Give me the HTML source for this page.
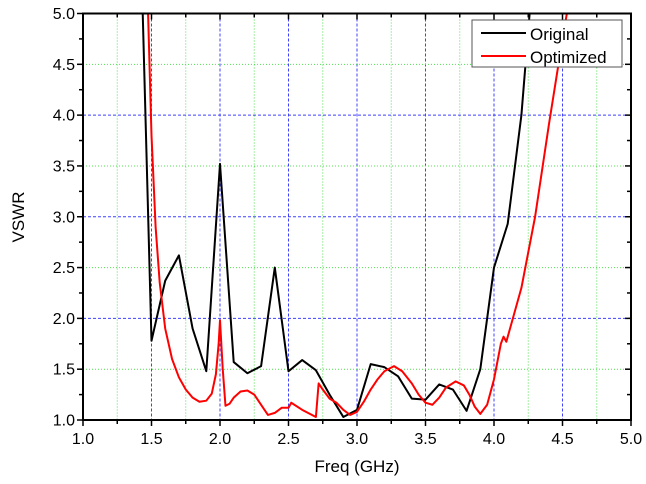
<!DOCTYPE html>
<html><head><meta charset="utf-8"><style>
html,body{margin:0;padding:0;background:#fff;}
svg{display:block;font-family:"Liberation Sans",Arial,sans-serif;}
</style></head><body>
<svg id="s" width="646" height="484" viewBox="0 0 646 484" xmlns="http://www.w3.org/2000/svg">
<defs><clipPath id="c"><rect x="83" y="13.5" width="548" height="406.5"/></clipPath></defs>
<g id="grid"></g>
<g clip-path="url(#c)">
<g transform="translate(83,420) scale(137,-101.625) translate(-1,-1)">
<polyline vector-effect="non-scaling-stroke" fill="none" stroke="#000" stroke-width="2" stroke-linejoin="round" points="1.43,5.3 1.5,1.78 1.6,2.37 1.7,2.62 1.8,1.9 1.9,1.48 2.0,3.52 2.1,1.57 2.2,1.46 2.3,1.53 2.4,2.5 2.5,1.48 2.6,1.59 2.7,1.49 2.8,1.25 2.9,1.03 3.0,1.1 3.1,1.55 3.2,1.52 3.3,1.43 3.4,1.21 3.5,1.2 3.6,1.35 3.7,1.3 3.8,1.09 3.9,1.5 4.0,2.5 4.1,2.93 4.2,4.0 4.26,5.0 4.28,5.3"/>
<polyline vector-effect="non-scaling-stroke" fill="none" stroke="#f00" stroke-width="2" stroke-linejoin="round" points="1.47,5.3 1.475,5.0 1.5,3.8 1.53,2.9 1.56,2.35 1.6,1.9 1.65,1.6 1.7,1.42 1.75,1.3 1.8,1.22 1.85,1.18 1.9,1.19 1.94,1.26 1.97,1.45 1.99,1.75 2.0,1.98 2.02,1.5 2.04,1.14 2.07,1.16 2.1,1.22 2.15,1.28 2.2,1.29 2.25,1.25 2.3,1.15 2.35,1.05 2.4,1.07 2.45,1.12 2.5,1.12 2.52,1.17 2.6,1.1 2.7,1.03 2.72,1.36 2.75,1.3 2.8,1.21 2.85,1.17 2.9,1.1 2.95,1.05 3.0,1.08 3.05,1.18 3.1,1.3 3.15,1.4 3.2,1.48 3.27,1.53 3.33,1.48 3.4,1.36 3.45,1.25 3.5,1.17 3.55,1.15 3.6,1.22 3.65,1.32 3.72,1.38 3.78,1.34 3.82,1.25 3.86,1.13 3.9,1.06 3.95,1.15 4.0,1.4 4.05,1.75 4.07,1.82 4.09,1.77 4.2,2.3 4.3,3.0 4.4,3.9 4.5,4.75 4.57,5.3"/>
</g></g>
<rect x="83" y="13.5" width="548" height="406.5" fill="none" stroke="#000" stroke-width="2"/>
<g id="ax"></g>
<rect x="472" y="20" width="150" height="47" fill="#fff" stroke="#555" stroke-width="1"/>
<line x1="481" y1="33" x2="526" y2="33" stroke="#000" stroke-width="2"/>
<line x1="481" y1="56" x2="526" y2="56" stroke="#f00" stroke-width="2"/>
<text x="530" y="40" font-size="17" fill="#000">Original</text>
<text x="530" y="63" font-size="17" fill="#000">Optimized</text>
<text x="357" y="472" font-size="17" text-anchor="middle">Freq (GHz)</text>
<text x="24" y="217" font-size="17" text-anchor="middle" transform="rotate(-90 24 217)">VSWR</text>
</svg>
<script>
var NS="http://www.w3.org/2000/svg",g=document.getElementById("grid"),a=document.getElementById("ax");
function X(f){return 83+(f-1)*137}function Y(v){return 420-(v-1)*101.625}
function L(p,x1,y1,x2,y2,c,w,d){var l=document.createElementNS(NS,"line");l.setAttribute("x1",x1);l.setAttribute("y1",y1);l.setAttribute("x2",x2);l.setAttribute("y2",y2);l.setAttribute("stroke",c);l.setAttribute("stroke-width",w);if(d)l.setAttribute("stroke-dasharray",d);p.appendChild(l)}
function T(x,y,s,anc){var t=document.createElementNS(NS,"text");t.setAttribute("x",x);t.setAttribute("y",y);t.setAttribute("font-size","16");t.setAttribute("text-anchor",anc);t.textContent=s;a.appendChild(t)}
for(var i=1;i<16;i++){var f=1+i*0.25,x=X(f);var maj=i%2==0;L(g,x,13.5,x,420,maj?"#4040ff":"#50e050",1,maj?"3,2":"1,2")}
for(var i=1;i<8;i++){var v=1+i*0.5,y=Y(v);var maj=i%2==0;L(g,83,y,631,y,maj?"#4040ff":"#50e050",1,maj?"3,2":"1,2")}
for(var i=0;i<=16;i++){var f=1+i*0.25,x=X(f),maj=i%2==0;L(a,x,420,x,420+(maj?6:4),"#000",1.5);L(a,x,13.5,x,13.5+(maj?6:4),"#000",1.5);if(maj)T(x,444,f.toFixed(1),"middle")}
for(var i=0;i<=16;i++){var v=1+i*0.25,y=Y(v),maj=i%2==0;L(a,83,y,83-(maj?6:4),y,"#000",1.5);L(a,631,y,631-(maj?6:4),y,"#000",1.5);if(maj)T(75,y+5.5,v.toFixed(1),"end")}
</script>
</body></html>
